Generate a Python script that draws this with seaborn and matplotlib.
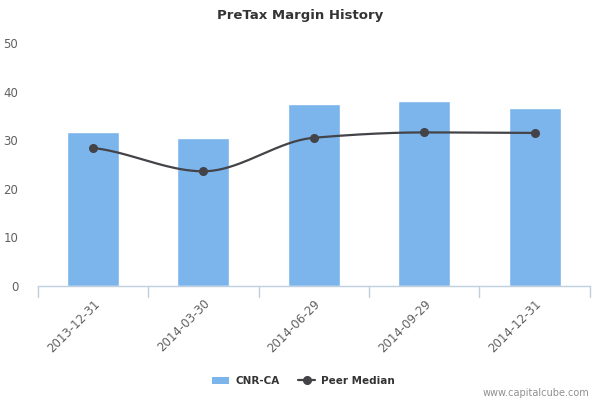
import numpy as np
import pandas as pd
import seaborn as sns
import matplotlib
matplotlib.use("Agg")
import matplotlib.pyplot as plt
from matplotlib.lines import Line2D
from matplotlib.patches import Patch

dates = ["2013-12-31", "2014-03-30", "2014-06-29", "2014-09-29", "2014-12-31"]
company = [31.7, 30.4, 37.4, 38.0, 36.6]
peer_median = [28.4, 23.6, 30.5, 31.6, 31.5]

df = pd.DataFrame({"date": dates, "CNR-CA": company, "Peer Median": peer_median})

sns.set_style("white")
plt.rcParams['font.family'] = ['DejaVu Sans']

fig = plt.figure(figsize=(6, 4), dpi=100)
ax = fig.add_axes([0.063, 0.285, 0.92, 0.6075])

sns.barplot(x="date", y="CNR-CA", data=df, color="#7cb5ec", width=0.47,
            saturation=1, ax=ax)


# smooth curve through the medians (monotone cubic hermite)
def smooth(xs, ys, n=40):
    xs = np.asarray(xs, float)
    ys = np.asarray(ys, float)
    d = np.diff(ys) / np.diff(xs)
    m = np.zeros_like(ys)
    for i in range(1, len(ys) - 1):
        if d[i - 1] * d[i] > 0:
            m[i] = 2 / (1 / d[i - 1] + 1 / d[i])
    m[0] = d[0] * 0.5
    m[-1] = d[-1] * 0.5
    outx, outy = [], []
    for i in range(len(xs) - 1):
        t = np.linspace(0, 1, n)
        h = xs[i + 1] - xs[i]
        h00 = 2 * t**3 - 3 * t**2 + 1
        h10 = t**3 - 2 * t**2 + t
        h01 = -2 * t**3 + 3 * t**2
        h11 = t**3 - t**2
        outx.extend(xs[i] + t * h)
        outy.extend(h00 * ys[i] + h10 * h * m[i] + h01 * ys[i + 1] + h11 * h * m[i + 1])
    return np.array(outx), np.array(outy)


pos = np.arange(len(dates))
sx, sy = smooth(pos, df["Peer Median"])
sns.lineplot(x=sx, y=sy, color="#434348", linewidth=1.6, ax=ax, sort=False)
ax.plot(pos, df["Peer Median"], "o", color="#434348", markersize=5.5, zorder=5)

ax.set_xlim(-0.5, len(dates) - 0.5)
ax.set_ylim(0, 50)
ax.set_yticks([0, 10, 20, 30, 40, 50])
ax.set_xlabel("")
ax.set_ylabel("")

for s in ["top", "right", "left"]:
    ax.spines[s].set_visible(False)
ax.spines["bottom"].set_color("#c0d0e0")
ax.spines["bottom"].set_linewidth(1)

ax.set_xticks(pos)
ax.set_xticklabels(dates, rotation=45, ha="right", rotation_mode="anchor",
                   fontsize=8.5, color="#606060")
ax.tick_params(axis="x", length=0, pad=8)
ax.tick_params(axis="y", length=0, labelsize=8.5, labelcolor="#606060", pad=14)
# tick marks between categories
for b in np.arange(-0.5, len(dates), 1.0):
    ax.plot([b, b], [0, -0.045], transform=ax.get_xaxis_transform(),
            color="#c0d0e0", linewidth=1, clip_on=False)

fig.text(0.5, 0.96, "PreTax Margin History", ha="center", va="center",
         fontsize=9.5, color="#333333", fontweight="bold")

handles = [Patch(facecolor="#7cb5ec", edgecolor="none", label="CNR-CA"),
           Line2D([0], [0], color="#434348", marker="o", markersize=5.5,
                  linewidth=1.6, label="Peer Median")]
leg = fig.legend(handles=handles, loc="center", bbox_to_anchor=(0.506, 0.048),
                 ncol=2, frameon=False, prop={"size": 7.5, "weight": "bold"},
                 handlelength=1.6, columnspacing=1.8, handletextpad=0.6)
for t in leg.get_texts():
    t.set_color("#333333")

fig.text(0.983, 0.018, "www.capitalcube.com", ha="right", va="center",
         fontsize=7, color="#909090")

fig.savefig("out.png", dpi=100)
